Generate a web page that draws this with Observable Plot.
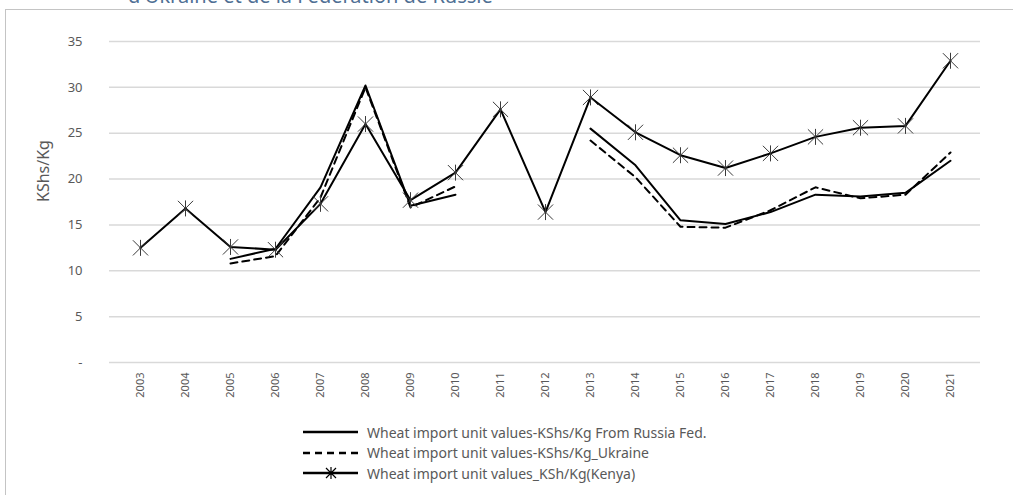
<!DOCTYPE html>
<html>
<head>
<meta charset="utf-8">
<script src="https://cdn.jsdelivr.net/npm/d3@7"></script>
<script src="https://cdn.jsdelivr.net/npm/@observablehq/plot@0.6"></script>
<style>
  html, body { margin: 0; padding: 0; background: #fff; }
  #wrap { position: relative; width: 1013px; height: 495px; overflow: hidden; font-family: "Noto Sans", sans-serif; }
  #title { position: absolute; left: 128px; top: -18px; font-size: 20px; color: #4f6f94; white-space: nowrap; }
  #frame { position: absolute; left: 5px; top: 9px; width: 1100px; height: 600px; border-left: 1px solid #c4c4c4; border-top: 1px solid #c4c4c4; }
  #chart { position: absolute; left: 0; top: 0; }
  #legend { position: absolute; left: 303px; top: 422px; font-size: 14px; color: #595959; }
  .row { display: flex; align-items: center; height: 20.5px; }
  .row svg { margin-right: 8px; }
</style>
</head>
<body>
<div id="wrap">
  <div id="title">d'Ukraine et de la Fédération de Russie</div>
  <div id="frame"></div>
  <div id="chart"></div>
  <div id="legend"></div>
</div>
<script>
const years = ["2003","2004","2005","2006","2007","2008","2009","2010","2011","2012","2013","2014","2015","2016","2017","2018","2019","2020","2021"];
const russia = [null,null,11.3,12.4,19.1,30.2,17.1,18.3,null,null,25.5,21.5,15.5,15.1,16.4,18.3,18.1,18.5,22.0];
const ukraine = [null,null,10.8,11.6,18.0,30.0,16.9,19.2,null,null,24.2,20.2,14.8,14.7,16.6,19.1,17.9,18.3,22.9];
const kenya = [12.5,16.8,12.6,12.3,17.3,26.0,17.7,20.7,27.6,16.4,28.9,25.1,22.6,21.2,22.8,24.6,25.6,25.8,32.9];
const yTicks = [0,5,10,15,20,25,30,35];
const seriesNames = [
  "Wheat import unit values-KShs/Kg From Russia Fed.",
  "Wheat import unit values-KShs/Kg_Ukraine",
  "Wheat import unit values_KSh/Kg(Kenya)"
];

const toRows = (vals) => years.map((y, i) => ({year: y, value: vals[i] == null ? NaN : vals[i]}));
const rRussia = toRows(russia), rUkraine = toRows(ukraine), rKenya = toRows(kenya);

// Excel-like star marker: X plus vertical line
const starSymbol = {
  draw(ctx, size) {
    const r = Math.sqrt(size / Math.PI);
    const d = r * 0.95;
    ctx.moveTo(-d, -d); ctx.lineTo(d, d);
    ctx.moveTo(-d, d); ctx.lineTo(d, -d);
    ctx.moveTo(0, -r); ctx.lineTo(0, r);
  }
};

const chart = Plot.plot({
  width: 1013,
  height: 410,
  marginLeft: 109,
  marginRight: 33,
  marginTop: 41,
  marginBottom: 48,
  style: {fontFamily: "Noto Sans, sans-serif", color: "#595959", background: "transparent"},
  x: {type: "point", domain: years, padding: 0.5, label: null},
  y: {domain: [0, 35], label: null},
  marks: [
    Plot.ruleY(yTicks, {stroke: "#d9d9d9", strokeWidth: 1.5}),
    Plot.axisY(yTicks, {tickSize: 0, tickPadding: 27, fontSize: 13, fill: "#595959", label: null,
      tickFormat: d => d === 0 ? "-" : String(d)}),
    Plot.axisX(years, {tickSize: 0, tickPadding: 10, tickRotate: -90, fontSize: 11, fill: "#595959", label: null}),
    Plot.text(["KShs/Kg"], {frameAnchor: "left", dx: -66, rotate: -90, fontSize: 16, fill: "#595959"}),
    Plot.line(rRussia, {x: "year", y: "value", stroke: "#000", strokeWidth: 2}),
    Plot.line(rUkraine, {x: "year", y: "value", stroke: "#000", strokeWidth: 2, strokeDasharray: "7,5"}),
    Plot.line(rKenya, {x: "year", y: "value", stroke: "#000", strokeWidth: 2}),
    Plot.dot(rKenya, {x: "year", y: "value", symbol: starSymbol, r: 8, stroke: "#3a3a3a", strokeWidth: 1, fill: "none"})
  ]
});
document.getElementById("chart").appendChild(chart);

// Legend
const legend = d3.select("#legend");
const styles = [
  {dash: null, marker: false},
  {dash: "7,5", marker: false},
  {dash: null, marker: true}
];
seriesNames.forEach((name, i) => {
  const row = legend.append("div").attr("class", "row");
  const svg = row.append("svg").attr("width", 56).attr("height", 14);
  svg.append("line").attr("x1", 0).attr("x2", 55).attr("y1", 7).attr("y2", 7)
    .attr("stroke", "#000").attr("stroke-width", 2.5)
    .attr("stroke-dasharray", styles[i].dash);
  if (styles[i].marker) {
    svg.append("path").attr("d", "M23,2L33,12M23,12L33,2M28,1L28,13").attr("stroke", "#000").attr("stroke-width", 1.2);
  }
  row.append("span").text(name);
});
</script>
</body>
</html>
